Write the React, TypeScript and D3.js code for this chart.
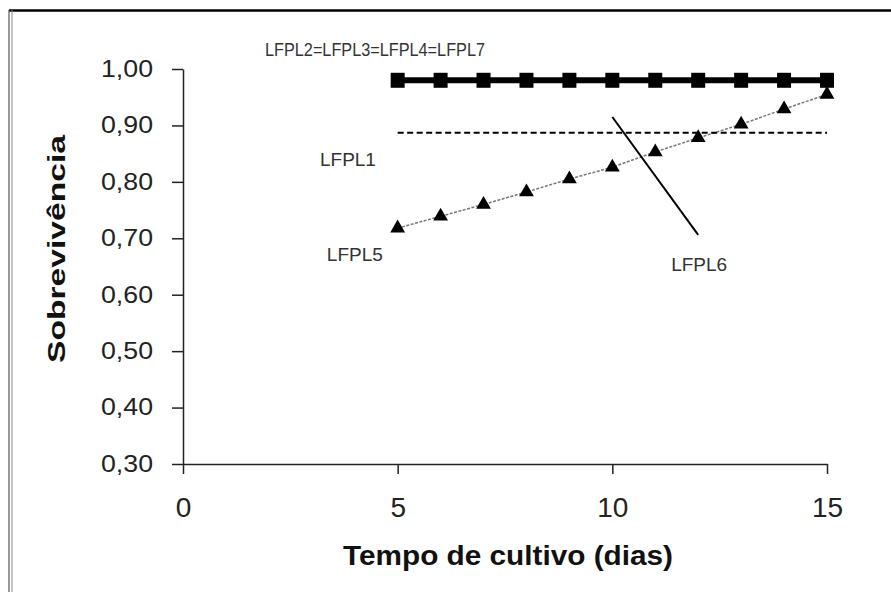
import React, { useRef, useEffect } from 'react';
import * as d3 from 'd3';

// survival (Sobrevivência) by culture day
const days = [5, 6, 7, 8, 9, 10, 11, 12, 13, 14, 15];
const lfpl2347 = [0.98, 0.98, 0.98, 0.98, 0.98, 0.98, 0.98, 0.98, 0.98, 0.98, 0.98];
const lfpl5 = [0.718, 0.739, 0.760, 0.782, 0.805, 0.826, 0.853, 0.878, 0.902, 0.929, 0.955];
const lfpl1Days = [5, 15];
const lfpl1 = [0.887, 0.887];
const lfpl6Days = [10, 12];
const lfpl6 = [0.915, 0.706];

const yTicks = [0.3, 0.4, 0.5, 0.6, 0.7, 0.8, 0.9, 1.0];
const xTicks = [0, 5, 10, 15];

// series labels, anchored in data units (day, value)
const labels = [
    { text: 'LFPL2=LFPL3=LFPL4=LFPL7', day: 1.91, value: 1.023, len: 220 },
    { text: 'LFPL1', day: 3.19, value: 0.828, len: 0 },
    { text: 'LFPL5', day: 3.35, value: 0.66, len: 0 },
    { text: 'LFPL6', day: 11.37, value: 0.642, len: 0 },
];

const FONT = '"Liberation Sans", Arial, sans-serif';

const App = () => {
    const width = 891, height = 592;
    const svgRef = useRef<SVGSVGElement>(null);

    useEffect(() => {
        const svg = d3.select(svgRef.current);
        svg.selectAll('*').remove();

        const x = d3.scaleLinear().domain([0, 15]).range([183, 827]);
        const y = d3.scaleLinear().domain([0.3, 1.0]).range([464, 69]);

        // frame
        svg.append('line').attr('x1', 9).attr('x2', width).attr('y1', 10.5).attr('y2', 10.5)
            .attr('stroke', '#000').attr('stroke-width', 2.5);
        svg.append('line').attr('x1', 9).attr('x2', 9).attr('y1', 10).attr('y2', height)
            .attr('stroke', '#555').attr('stroke-width', 1.2);
        svg.append('line').attr('x1', 12).attr('x2', 12).attr('y1', 10).attr('y2', height)
            .attr('stroke', '#888').attr('stroke-width', 1);

        // axes
        const yAxis = svg.append('g')
            .attr('transform', 'translate(183,0)')
            .call(d3.axisLeft(y).tickValues(yTicks).tickSize(11).tickSizeOuter(0).tickPadding(19)
                .tickFormat(d => d3.format('.2f')(+d).replace('.', ',')));
        yAxis.selectAll('text').attr('font-size', 23).attr('font-family', FONT).attr('fill', '#222')
            .attr('textLength', 52).attr('lengthAdjust', 'spacingAndGlyphs');

        const xAxis = svg.append('g')
            .attr('transform', 'translate(0,464)')
            .call(d3.axisBottom(x).tickValues(xTicks).tickSize(10).tickSizeOuter(0).tickPadding(23)
                .tickFormat(d3.format('d')));
        xAxis.selectAll('text').attr('font-size', 28).attr('font-family', FONT).attr('fill', '#222');

        svg.selectAll('.domain, .tick line').attr('stroke', '#222').attr('stroke-width', 1.5);

        // axis titles
        svg.append('text')
            .attr('transform', 'translate(65,249) rotate(-90)')
            .attr('text-anchor', 'middle')
            .attr('font-family', FONT).attr('font-weight', 'bold').attr('font-size', 23)
            .attr('textLength', 228).attr('lengthAdjust', 'spacingAndGlyphs')
            .attr('fill', '#111')
            .text('Sobrevivência');
        svg.append('text')
            .attr('x', 508).attr('y', 565)
            .attr('text-anchor', 'middle')
            .attr('font-family', FONT).attr('font-weight', 'bold').attr('font-size', 28)
            .attr('textLength', 330).attr('lengthAdjust', 'spacingAndGlyphs')
            .attr('fill', '#111')
            .text('Tempo de cultivo (dias)');

        const line = d3.line<[number, number]>().x(d => x(d[0])).y(d => y(d[1]));

        // LFPL5 - dotted trend with triangles
        svg.append('path')
            .datum(days.map((d, i) => [d, lfpl5[i]] as [number, number]))
            .attr('d', line)
            .attr('fill', 'none').attr('stroke', '#777').attr('stroke-width', 1.5)
            .attr('stroke-dasharray', '3,1.5');
        svg.append('g').selectAll('path')
            .data(days.map((d, i) => [d, lfpl5[i]]))
            .join('path')
            .attr('transform', d => `translate(${x(d[0])},${y(d[1])})`)
            .attr('d', d3.symbol(d3.symbolTriangle, 95)())
            .attr('fill', '#000');

        // LFPL1 dashed
        svg.append('path')
            .datum(lfpl1Days.map((d, i) => [d, lfpl1[i]] as [number, number]))
            .attr('d', line)
            .attr('fill', 'none').attr('stroke', '#000').attr('stroke-width', 2)
            .attr('stroke-dasharray', '6,3.5');

        // LFPL6
        svg.append('path')
            .datum(lfpl6Days.map((d, i) => [d, lfpl6[i]] as [number, number]))
            .attr('d', line)
            .attr('fill', 'none').attr('stroke', '#000').attr('stroke-width', 2);

        // LFPL2=3=4=7 thick line with squares
        svg.append('path')
            .datum(days.map((d, i) => [d, lfpl2347[i]] as [number, number]))
            .attr('d', line)
            .attr('fill', 'none').attr('stroke', '#000').attr('stroke-width', 6);
        svg.append('g').selectAll('rect')
            .data(days.map((d, i) => [d, lfpl2347[i]]))
            .join('rect')
            .attr('x', d => x(d[0]) - 7).attr('y', d => y(d[1]) - 7.5)
            .attr('width', 14).attr('height', 15)
            .attr('fill', '#000');

        // labels
        labels.forEach(l => {
            const t = svg.append('text')
                .attr('x', x(l.day)).attr('y', y(l.value))
                .attr('font-family', FONT).attr('font-size', 19).attr('fill', '#333')
                .text(l.text);
            if (l.len) t.attr('textLength', l.len).attr('lengthAdjust', 'spacingAndGlyphs');
        });
    }, []);

    return <svg ref={svgRef} width={width} height={height}
        style={{ position: 'absolute', left: 0, top: 0, background: '#fff' }} />;
};

export default App;
